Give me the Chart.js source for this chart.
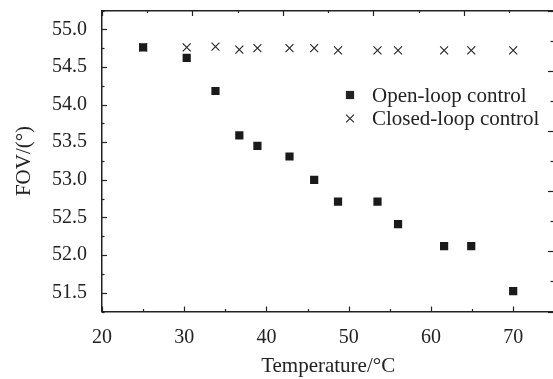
<!DOCTYPE html>
<html lang="en">
<head>
  <meta charset="UTF-8">
  <title>FOV vs Temperature</title>
  <script src="https://cdn.jsdelivr.net/npm/chart.js"></script>
  <style>
    body { margin: 0; overflow: hidden; background: white; }
    #chart { display: block; }
  </style>
</head>
<body>
<canvas id="chart" width="561" height="379"></canvas>
<script>
// temperature (°C) and FOV (°)
const temps      = [25, 30.3, 33.8, 36.7, 38.9, 42.8, 45.8, 48.7, 53.5, 56.0, 61.6, 64.9, 70.0];
const openLoop   = [54.76, 54.62, 54.18, 53.59, 53.45, 53.31, 53.00, 52.71, 52.71, 52.41, 52.12, 52.12, 51.52];
const closedLoop = [54.76, 54.76, 54.77, 54.73, 54.75, 54.75, 54.75, 54.72, 54.72, 54.72, 54.72, 54.72, 54.72];
const seriesNames = ['Open-loop control', 'Closed-loop control'];

const ink = '#222';
const serif = 'Liberation Serif, Times New Roman, serif';

function pts(ys) {
  return temps.map((t, i) => ({ x: t, y: ys[i] }));
}

// pin a scale's size and drop the label overhang padding chart.js adds
function pin(w, h) {
  return s => {
    if (w !== null) s.width = w;
    if (h !== null) s.height = h;
    s.paddingTop = s.paddingBottom = s.paddingLeft = s.paddingRight = 0;
  };
}

// tick marks pointing into the plot, like the original figure
const innerTicks = {
  id: 'innerTicks',
  afterDraw(chart) {
    const ctx = chart.ctx, a = chart.chartArea;
    ctx.save();
    ctx.strokeStyle = ink;
    ctx.lineWidth = 1.2;
    const sc = chart.scales;
    sc.x.ticks.forEach(t => {
      const p = Math.round(sc.x.getPixelForValue(t.value)) + 0.5;
      const len = t.value % 10 === 0 ? 5 : 2.5;
      ctx.beginPath(); ctx.moveTo(p, a.bottom); ctx.lineTo(p, a.bottom - len); ctx.stroke();
    });
    sc.y.ticks.forEach(t => {
      const p = Math.round(sc.y.getPixelForValue(t.value)) + 0.5;
      const len = Math.abs(t.value * 2 - Math.round(t.value * 2)) < 1e-6 ? 5 : 2.5;
      ctx.beginPath(); ctx.moveTo(a.left, p); ctx.lineTo(a.left + len, p); ctx.stroke();
    });
    sc.x2.ticks.forEach(t => {
      const p = Math.round(sc.x2.getPixelForValue(t.value)) + 0.5;
      const len = t.value % 1 === 0 ? 5.5 : 2.5;
      ctx.beginPath(); ctx.moveTo(p, a.top); ctx.lineTo(p, a.top + len); ctx.stroke();
    });
    sc.y2.ticks.forEach(t => {
      const p = Math.round(sc.y2.getPixelForValue(t.value)) + 0.5;
      const len = t.value % 1 === 0 ? 5 : 2.5;
      ctx.beginPath(); ctx.moveTo(553, p); ctx.lineTo(553 - len, p); ctx.stroke();
    });
    ctx.restore();
  }
};

// legend sitting inside the plot area
const insideLegend = {
  id: 'insideLegend',
  afterDraw(chart) {
    const ctx = chart.ctx;
    const x0 = 350, y0 = 95, gap = 23.5;
    ctx.save();
    ctx.font = '21px ' + serif;
    ctx.fillStyle = ink;
    ctx.strokeStyle = ink;
    ctx.textBaseline = 'middle';
    chart.data.datasets.forEach((ds, i) => {
      const y = y0 + i * gap;
      const s = ds.pointRadius * Math.SQRT1_2;
      ctx.lineWidth = ds.borderWidth;
      if (ds.pointStyle === 'rect') {
        ctx.fillRect(x0 - s, y - s, 2 * s, 2 * s);
      } else {
        ctx.beginPath();
        ctx.moveTo(x0 - s, y - s); ctx.lineTo(x0 + s, y + s);
        ctx.moveTo(x0 - s, y + s); ctx.lineTo(x0 + s, y - s);
        ctx.stroke();
      }
      ctx.fillText(ds.label, 372, y + 1);
    });
    ctx.restore();
  }
};

new Chart(document.getElementById('chart'), {
  type: 'scatter',
  data: {
    datasets: [
      {
        label: seriesNames[0],
        data: pts(openLoop),
        pointStyle: 'rect',
        pointRadius: 5.8,
        backgroundColor: '#1a1a1a',
        borderColor: '#1a1a1a',
        borderWidth: 0
      },
      {
        label: seriesNames[1],
        data: pts(closedLoop),
        pointStyle: 'crossRot',
        pointRadius: 5.6,
        backgroundColor: ink,
        borderColor: ink,
        borderWidth: 1.1
      }
    ]
  },
  plugins: [innerTicks, insideLegend],
  options: {
    responsive: false,
    animation: false,
    layout: { padding: 0 },
    plugins: { legend: { display: false }, tooltip: { enabled: false } },
    scales: {
      x: {
        type: 'linear', position: 'bottom', min: 20, max: 75,
        afterFit: pin(null, 67.5),
        grid: { display: false, drawTicks: false },
        border: { display: true, color: ink, width: 1.5 },
        ticks: {
          stepSize: 5, autoSkip: false, maxRotation: 0, padding: 14,
          color: ink, font: { family: serif, size: 20 },
          callback: v => (v % 10 === 0 && v <= 70) ? String(v) : ''
        },
        title: {
          display: true, text: 'Temperature/°C', color: ink,
          font: { family: serif, size: 21, lineHeight: 1.2 }, padding: 0
        }
      },
      y: {
        type: 'linear', position: 'left', min: 51.25, max: 55.25,
        afterFit: pin(102, null),
        grid: { display: false, drawTicks: false },
        border: { display: true, color: ink, width: 1.5 },
        ticks: {
          stepSize: 0.25, autoSkip: false, padding: 15,
          color: ink, font: { family: serif, size: 20 },
          callback: v => Math.abs(v * 2 - Math.round(v * 2)) < 1e-6 ? v.toFixed(1) : ''
        },
        title: {
          display: true, text: 'FOV/(°)', color: ink,
          font: { family: serif, size: 21, lineHeight: 1.2 }, padding: { top: 12, bottom: 0 }
        }
      },
      x2: {
        type: 'linear', position: 'top', min: 0, max: 5,
        afterFit: pin(null, 10.5),
        grid: { display: false, drawTicks: false },
        border: { display: true, color: ink, width: 1.5 },
        ticks: { display: false, stepSize: 0.5 }
      },
      y2: {
        type: 'linear', position: 'right', min: 0, max: 5,
        afterFit: pin(0, null),
        grid: { display: false, drawTicks: false },
        border: { display: false },
        ticks: { display: false, stepSize: 0.5 }
      }
    }
  }
});
</script>
</body>
</html>
